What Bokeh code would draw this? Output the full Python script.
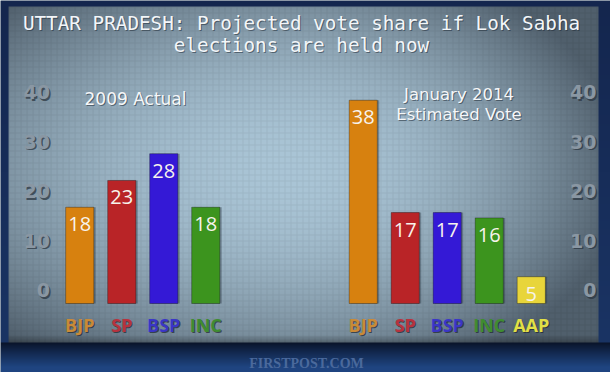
import numpy as np
from bokeh.plotting import figure
from bokeh.models import ColumnDataSource, FactorRange, Range1d, LinearAxis, FixedTicker
from bokeh.core.properties import value
from bokeh.transform import dodge
from bokeh.embed import file_html
from bokeh.resources import INLINE

# ---------------- data ----------------
title_lines = ["UTTAR PRADESH: Projected vote share if Lok Sabha", "elections are held now"]
group_2009 = "2009 Actual"
group_2014_lines = ["January 2014", "Estimated Vote"]
parties_2009 = ["BJP", "SP", "BSP", "INC"]
votes_2009 = [18, 23, 28, 18]
parties_2014 = ["BJP", "SP", "BSP", "INC", "AAP"]
votes_2014 = [38, 17, 17, 16, 5]
y_ticks = [0, 10, 20, 30, 40]
source_text = "FIRSTPOST.COM"

bar_colors = {"BJP": "#d7810f", "SP": "#b92427", "BSP": "#3419d6", "INC": "#3c941e", "AAP": "#e8d53a"}
label_colors = {"BJP": "#c98a38", "SP": "#b7323e", "BSP": "#3a36c6", "INC": "#3f8c31", "AAP": "#e2e046"}

# ---------------- geometry (pixels) ----------------
W, H = 610, 372
ZERO_PX = 303.0          # top-down pixel of value 0 for bars
PX_PER_UNIT = 5.35
TICK_ZERO_PX = 289.5     # top-down pixel of the "0" tick label
TICK_PX_PER_UNIT = 4.95
GROUP_PAD = 2.75
X_PAD = 1.387

factors = [("2009", pt) for pt in parties_2009] + [("2014", pt) for pt in parties_2014]
all_parties = parties_2009 + parties_2014
all_votes = votes_2009 + votes_2014

src = ColumnDataSource(dict(
    x=factors,
    top=all_votes,
    base=[0] * len(all_votes),
    color=[bar_colors[pt] for pt in all_parties],
    lcolor=[label_colors[pt] for pt in all_parties],
    party=all_parties,
    vlabel=[str(v) for v in all_votes],
))

x_range = FactorRange(*factors, group_padding=GROUP_PAD, factor_padding=0.0,
                      range_padding=X_PAD, range_padding_units="absolute")
X_START = -X_PAD
X_END = len(factors) + GROUP_PAD + X_PAD


def px_x(px):
    """horizontal pixel position of the frame -> synthetic x coordinate"""
    return X_START + px * (X_END - X_START) / W


y_range = Range1d(-(H - ZERO_PX) / PX_PER_UNIT, ZERO_PX / PX_PER_UNIT)

p = figure(width=W, height=H, x_range=x_range, y_range=y_range,
           output_backend="svg", toolbar_location=None,
           x_axis_location=None, y_axis_location=None,
           min_border=0, outline_line_color=None,
           background_fill_color="#6d7f8c", border_fill_color="#1a3260")
sh = 1.5 / TICK_PX_PER_UNIT
p.extra_y_ranges = {
    "px": Range1d(0, H),
    "ticks": Range1d(-(H - TICK_ZERO_PX) / TICK_PX_PER_UNIT, TICK_ZERO_PX / TICK_PX_PER_UNIT),
    "ticks_sh": Range1d(-(H - TICK_ZERO_PX) / TICK_PX_PER_UNIT + sh, TICK_ZERO_PX / TICK_PX_PER_UNIT + sh),
}
p.grid.visible = False

# ---------------- background picture ----------------
PANEL_L, PANEL_R, PANEL_T, PANEL_B = 8, 598, 6, 342
yy, xx = np.mgrid[0:H, 0:W].astype(float)
cx, cy = 292.0, 170.0
rx = np.where(xx < cx, 380.0, 300.0)
ry = 205.0
d2 = ((xx - cx) / rx) ** 2 + ((yy - cy) / ry) ** 2
t = np.clip(0.82 * d2, 0, 1)[..., None]
c0 = np.array([170, 197, 214], float)
c1 = np.array([80, 95, 108], float)
rgb = c0 + t * (c1 - c0)
grid = (((xx.astype(int) - PANEL_L) % 6 == 0) | ((yy.astype(int) - PANEL_T) % 6 == 0))[..., None]
rgb = np.where(grid, rgb * 0.94, rgb)
fade = np.clip((yy - (PANEL_B - 8)) / 8.0, 0, 1)[..., None]
rgb = rgb * (1 - 0.3 * fade)
# bottom band
band_t = np.clip((yy - PANEL_B) / 24.0, 0, 1)[..., None] ** 0.9
b0 = np.array([10, 20, 42], float)
b1 = np.array([31, 68, 128], float)
band = b0 + band_t * (b1 - b0)
rgb = np.where((yy >= PANEL_B)[..., None], band, rgb)
# navy frame on the other three sides
side_t = np.clip(yy / PANEL_B, 0, 1)[..., None]
side = np.array([20, 38, 78], float) + side_t * (np.array([26, 52, 100], float) - np.array([20, 38, 78], float))
outside = ((xx < PANEL_L) | (xx >= PANEL_R) | (yy < PANEL_T)) & (yy < PANEL_B)
rgb = np.where(outside[..., None], side, rgb)

img = np.empty((H, W), dtype=np.uint32)
view = img.view(dtype=np.uint8).reshape((H, W, 4))
view[..., 0] = rgb[..., 0].astype(np.uint8)
view[..., 1] = rgb[..., 1].astype(np.uint8)
view[..., 2] = rgb[..., 2].astype(np.uint8)
view[..., 3] = 255
p.image_rgba(image=[np.flipud(img)], x=X_START, y=0, dw=X_END - X_START, dh=H,
             y_range_name="px", level="image")

# ---------------- tick axes ----------------
def tick_axis(loc_px, rname, color, alpha):
    ax = LinearAxis(y_range_name=rname, fixed_location=px_x(loc_px),
                    ticker=FixedTicker(ticks=y_ticks))
    ax.axis_line_color = None
    ax.major_tick_line_color = None
    ax.minor_tick_line_color = None
    ax.major_tick_out = 0
    ax.major_tick_in = 0
    ax.major_label_standoff = 0
    ax.major_label_text_font = "DejaVu Sans"
    ax.major_label_text_font_style = "bold"
    ax.major_label_text_font_size = "19px"
    ax.major_label_text_color = color
    ax.major_label_text_alpha = alpha
    p.add_layout(ax, "left")

for loc in (49.5, 596):
    tick_axis(loc + 1.5, "ticks_sh", "#2c3742", 0.75)
    tick_axis(loc, "ticks", "#8a97a3", 1.0)

# ---------------- bars ----------------
p.vbar(x=dodge("x", 0.045, range=x_range), top="top", width=0.67, source=src,
       fill_color="#1b2530", fill_alpha=0.35, line_color=None)
p.vbar(x="x", top="top", width=0.67, source=src, fill_color="color",
       line_color="#000000", line_alpha=0.3, line_width=1)

p.text(x="x", y="top", text="vlabel", source=src, y_offset=17,
       text_align="center", text_baseline="alphabetic",
       text_font=value("Open Sans"), text_font_size="20px", text_color="#f7f3ec")

# party names below the bars
p.text(x="x", y="base", text="party", source=src, y_offset=22, x_offset=1,
       text_align="center", text_baseline="alphabetic",
       text_font=value("Open Sans"), text_font_style="bold", text_font_size="18px",
       text_color="#1e262e", text_alpha=0.7)
p.text(x="x", y="base", text="party", source=src, y_offset=21,
       text_align="center", text_baseline="alphabetic",
       text_font=value("Open Sans"), text_font_style="bold", text_font_size="18px",
       text_color="lcolor")

# ---------------- titles & annotations ----------------
def ptext(xs_px, ys_top, texts, size, color, font="DejaVu Sans", style="normal",
          shadow=True, baseline="alphabetic"):
    xs = [px_x(v) for v in xs_px]
    ys = [H - y for y in ys_top]
    if shadow:
        p.text(x=xs, y=ys, text=texts, y_range_name="px",
               x_offset=1, y_offset=1, text_align="center", text_baseline=baseline,
               text_font=value(font), text_font_style=style, text_font_size=size,
               text_color="#1f2b36", text_alpha=0.55)
    p.text(x=xs, y=ys, text=texts, y_range_name="px",
           text_align="center", text_baseline=baseline,
           text_font=value(font), text_font_style=style, text_font_size=size,
           text_color=color)

# a monospaced face reproduces the widely tracked lettering of the title
ptext([301, 301], [23, 45], title_lines, "19.3px", "#f3f6f9", font="DejaVu Sans Mono")
ptext([135], [98], [group_2009], "17px", "#f5f7f9")
ptext([458.5, 458.5], [94, 114], group_2014_lines, "16.5px", "#f5f7f9")
ptext([306], [363], [source_text], "14px", "#4a699c", font="Liberation Serif", style="bold",
      shadow=False, baseline="middle")

open("out.html", "w").write(file_html(p, INLINE, title="UTTAR PRADESH vote share"))
